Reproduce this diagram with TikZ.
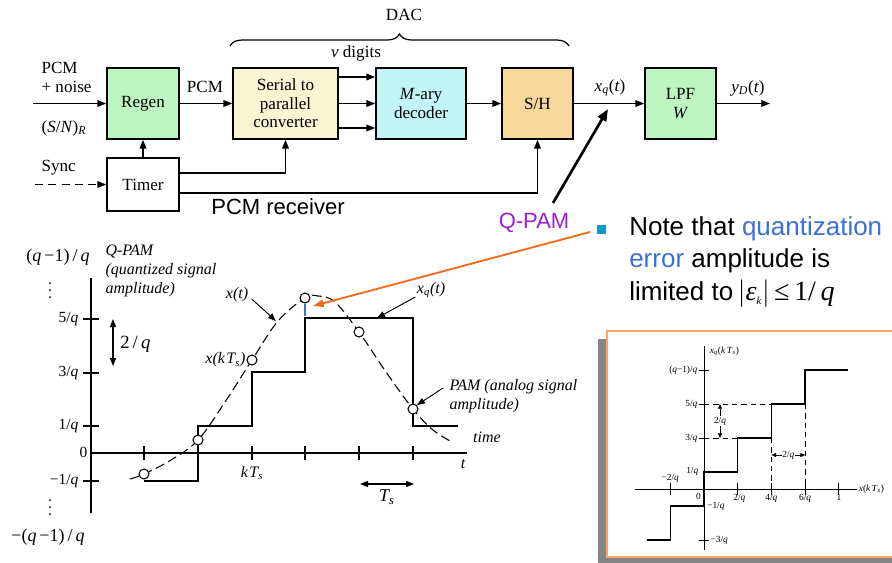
\documentclass[tikz,border=0pt]{standalone}
\usepackage{fontspec}
\setmainfont{Liberation Serif}
\newfontfamily\sansfam{Liberation Sans}
\usetikzlibrary{arrows.meta,decorations.pathreplacing,calc}

\definecolor{regengreen}{HTML}{BDF5C0}
\definecolor{serialyellow}{HTML}{F7F5D2}
\definecolor{decodercyan}{HTML}{C2F5F7}
\definecolor{shorange}{HTML}{F7D79A}
\definecolor{qpampurple}{HTML}{9B1FD1}
\definecolor{noteblue}{HTML}{3A6FD8}
\definecolor{bulletcyan}{HTML}{0E9AC9}
\definecolor{pointerorange}{HTML}{F26B1D}
\definecolor{panelorange}{HTML}{F9A66B}
\definecolor{shadowgray}{HTML}{858585}

\newcommand{\itx}[1]{\textit{#1}}
\newcommand{\subi}[1]{\textsubscript{\textit{#1}}}

\begin{document}
\begin{tikzpicture}[x=0.75pt,y=-0.75pt,
  block/.style={draw,line width=1.3pt,align=center,inner sep=0pt,
    font=\fontsize{12.8}{13.9}\selectfont},
  arr/.style={-{Triangle[length=6.5pt,width=5pt]},line width=0.9pt},
  lbl/.style={font=\fontsize{12.8}{14}\selectfont,inner sep=1pt},
  ptr/.style={-{Triangle[length=6pt,width=4.5pt]},line width=0.7pt},
  tickl/.style={font=\fontsize{11.6}{12}\selectfont,inner sep=1pt},
  glbl/.style={font=\fontsize{12}{14}\selectfont\itshape,inner sep=1pt},
  samp/.style={circle,draw,fill=white,line width=0.8pt,minimum size=7.5pt,inner sep=0pt},
  vdot/.style={circle,fill=black,minimum size=1.5pt,inner sep=0pt},
  big/.style={font=\sansfam\fontsize{16.5}{18}\selectfont,inner sep=0pt},
  note/.style={font=\sansfam\fontsize{19.5}{22}\selectfont,inner sep=0pt},
  small/.style={font=\fontsize{7}{8}\selectfont,inner sep=1pt},
]
\useasboundingbox (0,0) rectangle (892,562);

% ---------------- PCM receiver block diagram ----------------
\node[block,fill=regengreen,minimum width=54pt,minimum height=53.25pt] (regen) at (143,103.5) {Regen};
\node[block,fill=serialyellow,minimum width=78.75pt,minimum height=53.25pt] (s2p) at (285.5,103.5) {Serial to\\parallel\\converter};
\node[block,fill=decodercyan,minimum width=67.5pt,minimum height=53.25pt] (dec) at (421,103.5) {\itx{M}-ary\\decoder};
\node[block,fill=shorange,minimum width=53.25pt,minimum height=53.25pt] (sh) at (537.5,103.5) {S/H};
\node[block,fill=regengreen,minimum width=53.25pt,minimum height=53.25pt] (lpf) at (680.5,103.5) {LPF\\\itx{W}};
\node[block,fill=white,minimum width=54pt,minimum height=39.75pt] (timer) at (143,184.5) {Timer};

\coordinate (pcmin) at (33,103.5);
\coordinate (syncin) at (35,184.5);
\coordinate (yout) at (770,103.5);

\draw[arr] (pcmin) -- (regen.west);
\draw[arr,dash pattern=on 6pt off 4pt] (syncin) -- (timer.west);
\draw[arr] (regen) -- (s2p);
\foreach \yy in {77,103.5,128}
  \draw[arr] (s2p.east |- 0,\yy) -- (dec.west |- 0,\yy);
\draw[arr] (dec) -- (sh);
\draw[arr] (sh) -- (lpf);
\draw[arr] (lpf) -- (yout);
\draw[arr] (timer) -- (regen);
\draw[arr] (timer.east |- 0,173) -| (s2p.south);
\draw[arr] (timer.east |- 0,193) -| (sh.south);

\node[lbl,anchor=west] (pcmtxt) at (40,68) {PCM};
\node[lbl,anchor=west] (noisetxt) at (40,87) {+ noise};
\node[lbl,anchor=west] (snrtxt) at (40,128) {(\itx{S}/\itx{N})\subi{R}};
\node[lbl,anchor=west] (synctxt) at (40,168) {Sync};
\node[lbl] (pcmmid) at (205,87) {PCM};
\node[lbl] (digits) at (356,53) {\itx{ν} digits};
\node[lbl] (dac) at (404,15) {DAC};
\node[lbl] (xqt) at (610,88) {\itx{x}\subi{q}(\itx{t})};
\node[lbl] (ydt) at (748,88) {\itx{y}\subi{D}(\itx{t})};
\draw[line width=0.9pt,decorate,decoration={brace,amplitude=9pt}]
  (230,46) -- (569,46);

\node[big] (rcv) at (278,207) {PCM receiver};

% ---------------- Q-PAM pointer and note ----------------
\node[big,text=qpampurple] (qpam) at (534,223) {Q-PAM};
\coordinate (qtail) at (553,203);
\coordinate (qtip) at (608,109);
\draw[line width=2pt,-{Triangle[length=9pt,width=7pt]}] (qtail) -- (qtip);

\node[fill=bulletcyan,minimum size=6.75pt,inner sep=0pt] (bullet) at (601,229) {};
\node[note,anchor=base west] (note1) at (629,235) {Note that \textcolor{noteblue}{quantization}};
\node[note,anchor=base west] (note2) at (629,267) {\textcolor{noteblue}{error} amplitude is};
\node[note,anchor=base west] (note3) at (629,300) {limited to$\,\bigl|$\textrm{\fontsize{21}{22}\selectfont\itx{ε}\textsubscript{\fontsize{8}{8}\selectfont\itx{k}}}$\bigr|$\,\textrm{\fontsize{21}{22}\selectfont ≤\,1/\,\itx{q}}};

% ---------------- sampled and quantized signal ----------------
\coordinate (yaxtop) at (91,278);
\coordinate (yaxbot) at (91,513);
\coordinate (xaxend) at (467,453);
\draw[line width=0.9pt] (yaxtop) -- (yaxbot);
\draw[line width=0.9pt] (91,453) -- (xaxend);
\node[glbl] (tlbl) at (463,464) {t};

\foreach \yy/\lab in {319/5, 373/3, 426/1}{
  \draw[line width=0.9pt] (83,\yy) -- (99,\yy);
  \node[tickl,anchor=east] (ytick\lab) at (80,\yy) {\lab/\itx{q}};
}
\draw[line width=0.9pt] (83,481) -- (99,481);
\node[tickl,anchor=east] (ytickm1) at (80,481) {−1/\itx{q}};
\node[tickl,anchor=east] (ytick0) at (89,452) {0};
\node[font=\fontsize{13.5}{14}\selectfont,inner sep=0pt] (qtop) at (58,257) {(\itx{q}\,−1)\,/\,\itx{q}};
\node[font=\fontsize{13.5}{14}\selectfont,inner sep=0pt] (qbot) at (48,537) {−(\itx{q}\,−1)\,/\,\itx{q}};
% vertical ellipses on the level scale
\foreach \yy in {283,290,297} \node[vdot] at (50,\yy) {};
\foreach \yy in {500,507,514} \node[vdot] at (50,\yy) {};

\foreach \xx in {144,198,252,305,359,413}
  \draw[line width=0.9pt] (\xx,446) -- (\xx,460);
\node[glbl] (kts) at (252,473) {k\hspace{1pt}T\textsubscript{s}};

% quantized staircase
\draw[line width=1.5pt,line join=miter]
  (144,481) -- (198,481) -- (198,426) -- (252,426) -- (252,372) -- (305,372)
  -- (305,318) -- (413,318) -- (413,426) -- (458,426);

% analog signal
\draw[line width=0.8pt,dash pattern=on 7pt off 3.5pt] plot[smooth,tension=0.6] coordinates {
  (130,479) (144,474) (171,460) (198,440) (225,402) (252,360) (278,321)
  (305,298) (318,296) (335,302) (359,332) (386,372) (413,409) (433,430) (452,442)};

\node[samp] (s1) at (144,474) {};
\node[samp] (s2) at (198,440) {};
\node[samp] (s3) at (252,360) {};
\node[samp] (s4) at (305,298) {};
\node[samp] (s5) at (359,332) {};
\node[samp] (s6) at (413,409) {};

% quantization error mark
\draw[noteblue,line width=1.6pt] (s4.south) -- (305,316);

\node[glbl,align=left,anchor=north west,font=\fontsize{12}{14.3}\selectfont\itshape] (qpamlbl) at (104,243)
  {Q-PAM\\(quantized signal\\amplitude)};
\node[glbl] (xt) at (237,295) {x(t)};
\coordinate (xtpt) at (276,321);
\draw[ptr] (xt.east) ++(2,4) -- (xtpt);
\node[glbl] (xqlbl) at (431,290) {x\textsubscript{q}(t)};
\coordinate (xqpt) at (377,318);
\draw[ptr] (xqlbl.west) ++(0,7) -- (xqpt);
\node[glbl,anchor=east] (xkts) at (247,360) {x(k\hspace{1pt}T\textsubscript{s})};
\node[glbl,align=left,anchor=north west] (pamlbl) at (448,378) {PAM (analog signal\\amplitude)};
\draw[ptr] (443,388) -- (s6.north east);
\node[glbl] (timelbl) at (487,437) {time};

\coordinate (tsa) at (360,484);
\coordinate (tsb) at (414,484);
\draw[{Triangle[length=6pt,width=4.5pt]}-{Triangle[length=6pt,width=4.5pt]},line width=0.9pt] (tsa) -- (tsb);
\node[glbl,font=\fontsize{13.5}{14}\selectfont\itshape] (tslbl) at (387,497) {T\textsubscript{s}};

\coordinate (dqa) at (113,319);
\coordinate (dqb) at (113,366);
\draw[{Triangle[length=6pt,width=4.5pt]}-{Triangle[length=6pt,width=4.5pt]},line width=0.9pt] (dqa) -- (dqb);
\node[font=\fontsize{14}{14}\selectfont,anchor=west,inner sep=0pt] (dqlbl) at (120,344) {2\,/\,\itx{q}};

% orange pointer to the error mark
\coordinate (otail) at (590,232);
\coordinate (otip) at (313,306);
\draw[pointerorange,line width=1.4pt,-{Triangle[length=8pt,width=5.5pt]}] (otail) -- (otip);

% ---------------- quantizer characteristic panel ----------------
\fill[shadowgray] (598,339) rectangle (900,570);
\draw[panelorange,line width=1pt,fill=white] (607,331) rectangle (905,557);

\begin{scope}[shift={(704,489)},x=12.64pt,y=12.75pt]
  \draw[line width=0.6pt] (0,8.4) -- (0,-3.6);
  \draw[line width=0.6pt] (-4.1,0) -- (9.1,0);
  \foreach \v in {7,5,3,-3}
    \draw[line width=0.6pt] (-0.3,\v) -- (0.3,\v);
  \foreach \u in {-2,2,4,6,8}
    \draw[line width=0.6pt] (\u,-0.35) -- (\u,0.35);
  \draw[line width=0.6pt,dash pattern=on 4pt off 3pt]
    (0,5) -- (4,5)  (0,3) -- (2,3)  (4,3) -- (4,0)  (6,5) -- (6,0);
  \draw[line width=1pt]
    (-3.4,-3) -- (-2,-3) -- (-2,-1) -- (0,-1) -- (0,1) -- (2,1) -- (2,3)
    -- (4,3) -- (4,5) -- (6,5) -- (6,7) -- (8.55,7);

  \node[small,anchor=east] (iq7) at (-0.3,7) {(\itx{q}−1)/\itx{q}};
  \node[small,anchor=east] (iq5) at (-0.3,5) {5/\itx{q}};
  \node[small,anchor=east] (iq3) at (-0.3,3) {3/\itx{q}};
  \node[small,anchor=east] (iq1) at (-0.25,1.05) {1/\itx{q}};
  \node[small,anchor=south] (iqm2) at (-2,0.3) {−2/\itx{q}};
  \node[small,anchor=north east] (iq0) at (-0.1,-0.15) {0};
  \node[small,anchor=west] (iqm1) at (0.1,-1.05) {−1/\itx{q}};
  \node[small,anchor=north] (ix2) at (2.1,-0.2) {2/\itx{q}};
  \node[small,anchor=north] (ix4) at (4,-0.2) {4/\itx{q}};
  \node[small,anchor=north] (ix6) at (6,-0.2) {6/\itx{q}};
  \node[small,anchor=north] (ix1) at (8,-0.2) {1};
  \node[small,anchor=west] (iqm3) at (0.3,-3) {−3/\itx{q}};
  \node[small,anchor=west] (ixlbl) at (9.1,0) {\itx{x}(\itx{k\,T}\textsubscript{\itx{s}})};
  \node[small,anchor=west] (iylbl) at (0.25,8.1) {\itx{x}\subi{q}(\itx{k\,T}\textsubscript{\itx{s}})};

  \coordinate (dv1) at (0.95,5);
  \coordinate (dv2) at (0.95,3);
  \draw[line width=0.5pt,{Triangle[length=3.5pt,width=3pt]}-{Triangle[length=3.5pt,width=3pt]}] (dv1) -- (dv2);
  \node[small,fill=white] (dvlbl) at (0.95,4) {2/\itx{q}};
  \coordinate (dh1) at (4,2);
  \coordinate (dh2) at (6,2);
  \draw[line width=0.5pt,{Triangle[length=3.5pt,width=3pt]}-{Triangle[length=3.5pt,width=3pt]}] (dh1) -- (dh2);
  \node[small,fill=white,inner sep=0.5pt] (dhlbl) at (5,2) {2/\itx{q}};
\end{scope}
\end{tikzpicture}
\end{document}
